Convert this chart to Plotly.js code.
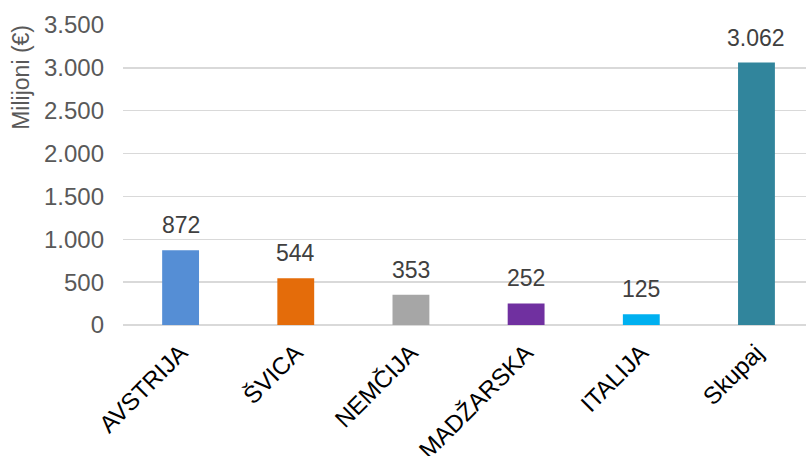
<!DOCTYPE html>
<html><head><meta charset="utf-8">
<script src="https://cdn.plot.ly/plotly-3.0.1.min.js"></script>
<style>html,body{margin:0;padding:0;background:#fff;overflow:hidden}</style>
</head><body><div id="chart" style="width:806px;height:456px"></div>
<script>
const categories = ["AVSTRIJA", "ŠVICA", "NEMČIJA", "MADŽARSKA", "ITALIJA", "Skupaj"];
const values = [872, 544, 353, 252, 125, 3062];
const valueLabels = ["872", "544", "353", "252", "125", "3.062"];
const barColors = ["#558ED5", "#E46C0A", "#A6A6A6", "#7030A0", "#00B0F0", "#31859C"];
const yTicks = [0, 500, 1000, 1500, 2000, 2500, 3000, 3500];
const yTitle = "Milijoni (€)";

const FONT = "Liberation Sans, Arial, sans-serif";

const labelAnnotations = categories.map((c, i) => ({
  x: c, y: values[i], xref: "x", yref: "y",
  text: valueLabels[i], showarrow: false,
  yanchor: "bottom", yshift: 10,
  font: {family: FONT, size: 23, color: "#404040"}
}));

labelAnnotations.push({
  xref: "paper", yref: "paper", x: -0.1495, y: 0.827,
  xanchor: "center", yanchor: "middle",
  text: yTitle, textangle: -90, showarrow: false,
  font: {family: FONT, size: 23, color: "#595959"}
});

Plotly.newPlot("chart", [{
  type: "bar",
  x: categories,
  y: values,
  marker: {color: barColors},
  width: 0.32,
  hoverinfo: "skip"
}], {
  width: 806, height: 456,
  separators: ",.",
  margin: {l: 123, r: 0, t: 25, b: 131},
  paper_bgcolor: "#fff", plot_bgcolor: "#fff",
  font: {family: FONT},
  showlegend: false,
  annotations: labelAnnotations,
  xaxis: {
    range: [-0.5, 5.43],
    tickangle: -45,
    tickfont: {size: 24, color: "#000"},
    ticklabelstandoff: 8,
    showgrid: false, showline: false, ticks: "",
    fixedrange: true
  },
  yaxis: {
    range: [0, 3500],
    tickvals: yTicks,
    tickformat: ",d",
    tickfont: {size: 24, color: "#595959"},
    gridcolor: "#D9D9D9", gridwidth: 1.5,
    zeroline: true, zerolinecolor: "#D9D9D9", zerolinewidth: 1.5,
    showline: false, ticks: "",
    ticklabelstandoff: 18,
    fixedrange: true
  }
}, {displayModeBar: false, staticPlot: true});
</script></body></html>
